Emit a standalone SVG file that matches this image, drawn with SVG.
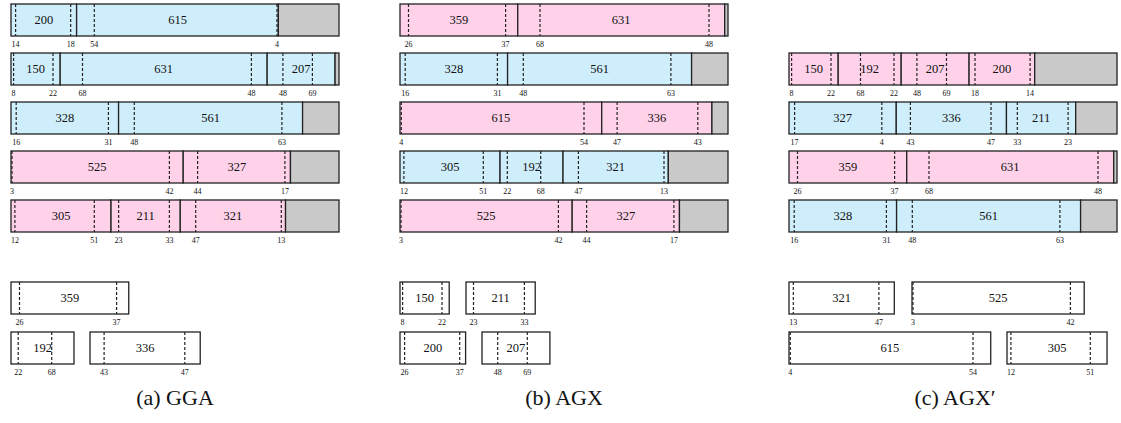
<svg xmlns="http://www.w3.org/2000/svg" width="1121" height="423" viewBox="0 0 1121 423">
<style>
rect{stroke:#222;stroke-width:1.3}
rect.bg{fill:#fff;stroke:none}
.b{fill:#cfeefc}
.p{fill:#ffd2ea}
.g{fill:#c9c9c9}
.w{fill:#fff}
.d{stroke:#222;stroke-width:1.2;stroke-dasharray:3 2}
text{font-family:"Liberation Serif","Times New Roman",serif;fill:#111;text-anchor:middle}
.n{font-size:12.5px}
.l{font-size:8px}
.c{font-size:22px}
</style>
<rect class="bg" width="1121" height="423"/>
<g id="connectors"/>

<!-- Panel a -->
<g id="a-bin1">
<rect class="b" x="11" y="4" width="65.6" height="32"/><rect class="b" x="76.6" y="4" width="201.72" height="32"/><rect class="g" x="278.32" y="4" width="60.68" height="32"/>
<line class="d" x1="15.6" y1="4" x2="15.6" y2="36"/><line class="d" x1="70.7" y1="4" x2="70.7" y2="36"/><line class="d" x1="94.3" y1="4" x2="94.3" y2="36"/><line class="d" x1="277" y1="4" x2="277" y2="36"/>
<text class="n" x="43.8" y="24">200</text><text class="n" x="177.5" y="24">615</text>
<text class="l" x="15.6" y="46.5">14</text><text class="l" x="70.7" y="46.5">18</text><text class="l" x="94.3" y="46.5">54</text><text class="l" x="277" y="46.5">4</text>
</g>
<g id="a-bin2">
<rect class="b" x="11" y="53" width="49.2" height="32"/><rect class="b" x="60.2" y="53" width="206.97" height="32"/><rect class="b" x="267.17" y="53" width="67.9" height="32"/><rect class="g" x="335.07" y="53" width="3.93" height="32"/>
<line class="d" x1="13.6" y1="53" x2="13.6" y2="85"/><line class="d" x1="53" y1="53" x2="53" y2="85"/><line class="d" x1="82.5" y1="53" x2="82.5" y2="85"/><line class="d" x1="251.4" y1="53" x2="251.4" y2="85"/><line class="d" x1="282.9" y1="53" x2="282.9" y2="85"/><line class="d" x1="312.4" y1="53" x2="312.4" y2="85"/>
<text class="n" x="35.6" y="73">150</text><text class="n" x="163.7" y="73">631</text><text class="n" x="301.1" y="73">207</text>
<text class="l" x="13.6" y="95.5">8</text><text class="l" x="53" y="95.5">22</text><text class="l" x="82.5" y="95.5">68</text><text class="l" x="251.4" y="95.5">48</text><text class="l" x="282.9" y="95.5">48</text><text class="l" x="312.4" y="95.5">69</text>
</g>
<g id="a-bin3">
<rect class="b" x="11" y="102" width="107.58" height="32"/><rect class="b" x="118.58" y="102" width="184.01" height="32"/><rect class="g" x="302.59" y="102" width="36.41" height="32"/>
<line class="d" x1="16.2" y1="102" x2="16.2" y2="134"/><line class="d" x1="108.4" y1="102" x2="108.4" y2="134"/><line class="d" x1="134.3" y1="102" x2="134.3" y2="134"/><line class="d" x1="281.9" y1="102" x2="281.9" y2="134"/>
<text class="n" x="64.8" y="122">328</text><text class="n" x="210.6" y="122">561</text>
<text class="l" x="16.2" y="144.5">16</text><text class="l" x="108.4" y="144.5">31</text><text class="l" x="134.3" y="144.5">48</text><text class="l" x="281.9" y="144.5">63</text>
</g>
<g id="a-bin4">
<rect class="p" x="11" y="151" width="172.2" height="32"/><rect class="p" x="183.2" y="151" width="107.26" height="32"/><rect class="g" x="290.46" y="151" width="48.54" height="32"/>
<line class="d" x1="12" y1="151" x2="12" y2="183"/><line class="d" x1="169.4" y1="151" x2="169.4" y2="183"/><line class="d" x1="197.6" y1="151" x2="197.6" y2="183"/><line class="d" x1="284.9" y1="151" x2="284.9" y2="183"/>
<text class="n" x="97.1" y="171">525</text><text class="n" x="236.8" y="171">327</text>
<text class="l" x="12" y="193.5">3</text><text class="l" x="169.4" y="193.5">42</text><text class="l" x="197.6" y="193.5">44</text><text class="l" x="284.9" y="193.5">17</text>
</g>
<g id="a-bin5">
<rect class="p" x="11" y="200" width="100.04" height="32"/><rect class="p" x="111.04" y="200" width="69.21" height="32"/><rect class="p" x="180.25" y="200" width="105.29" height="32"/><rect class="g" x="285.54" y="200" width="53.46" height="32"/>
<line class="d" x1="14.9" y1="200" x2="14.9" y2="232"/><line class="d" x1="94.3" y1="200" x2="94.3" y2="232"/><line class="d" x1="118.6" y1="200" x2="118.6" y2="232"/><line class="d" x1="169.4" y1="200" x2="169.4" y2="232"/><line class="d" x1="195.7" y1="200" x2="195.7" y2="232"/><line class="d" x1="281.3" y1="200" x2="281.3" y2="232"/>
<text class="n" x="61" y="220">305</text><text class="n" x="145.6" y="220">211</text><text class="n" x="232.9" y="220">321</text>
<text class="l" x="14.9" y="242.5">12</text><text class="l" x="94.3" y="242.5">51</text><text class="l" x="118.6" y="242.5">23</text><text class="l" x="169.4" y="242.5">33</text><text class="l" x="195.7" y="242.5">47</text><text class="l" x="281.3" y="242.5">13</text>
</g>
<g id="a-item359">
<rect class="w" x="11" y="282" width="117.75" height="32"/>
<line class="d" x1="19.5" y1="282" x2="19.5" y2="314"/><line class="d" x1="116.6" y1="282" x2="116.6" y2="314"/>
<text class="n" x="69.9" y="302">359</text><text class="l" x="19.5" y="324.5">26</text><text class="l" x="116.6" y="324.5">37</text>
</g>
<g id="a-item192">
<rect class="w" x="11" y="332" width="62.98" height="32"/>
<line class="d" x1="18.2" y1="332" x2="18.2" y2="364"/><line class="d" x1="51.7" y1="332" x2="51.7" y2="364"/>
<text class="n" x="42.5" y="352">192</text><text class="l" x="18.2" y="374.5">22</text><text class="l" x="51.7" y="374.5">68</text>
</g>
<g id="a-item336">
<rect class="w" x="90" y="332" width="110.21" height="32"/>
<line class="d" x1="104.1" y1="332" x2="104.1" y2="364"/><line class="d" x1="184.8" y1="332" x2="184.8" y2="364"/>
<text class="n" x="145.1" y="352">336</text><text class="l" x="104.1" y="374.5">43</text><text class="l" x="184.8" y="374.5">47</text>
</g>
<text id="cap-a" class="c" x="175" y="405">(a) GGA</text>

<!-- Panel b -->
<g id="b-bin1">
<rect class="p" x="400" y="4" width="117.75" height="32"/><rect class="p" x="517.75" y="4" width="206.97" height="32"/><rect class="g" x="724.72" y="4" width="3.28" height="32"/>
<line class="d" x1="408.5" y1="4" x2="408.5" y2="36"/><line class="d" x1="505.6" y1="4" x2="505.6" y2="36"/><line class="d" x1="540" y1="4" x2="540" y2="36"/><line class="d" x1="709" y1="4" x2="709" y2="36"/>
<text class="n" x="458.9" y="24">359</text><text class="n" x="621.2" y="24">631</text>
<text class="l" x="408.5" y="46.5">26</text><text class="l" x="505.6" y="46.5">37</text><text class="l" x="540" y="46.5">68</text><text class="l" x="709" y="46.5">48</text>
</g>
<g id="b-bin2">
<rect class="b" x="400" y="53" width="107.58" height="32"/><rect class="b" x="507.58" y="53" width="184.01" height="32"/><rect class="g" x="691.59" y="53" width="36.41" height="32"/>
<line class="d" x1="405.2" y1="53" x2="405.2" y2="85"/><line class="d" x1="497.4" y1="53" x2="497.4" y2="85"/><line class="d" x1="523.3" y1="53" x2="523.3" y2="85"/><line class="d" x1="670.9" y1="53" x2="670.9" y2="85"/>
<text class="n" x="453.8" y="73">328</text><text class="n" x="599.6" y="73">561</text>
<text class="l" x="405.2" y="95.5">16</text><text class="l" x="497.4" y="95.5">31</text><text class="l" x="523.3" y="95.5">48</text><text class="l" x="670.9" y="95.5">63</text>
</g>
<g id="b-bin3">
<rect class="p" x="400" y="102" width="201.72" height="32"/><rect class="p" x="601.72" y="102" width="110.21" height="32"/><rect class="g" x="711.93" y="102" width="16.07" height="32"/>
<line class="d" x1="401.3" y1="102" x2="401.3" y2="134"/><line class="d" x1="584" y1="102" x2="584" y2="134"/><line class="d" x1="617.1" y1="102" x2="617.1" y2="134"/><line class="d" x1="697.8" y1="102" x2="697.8" y2="134"/>
<text class="n" x="500.9" y="122">615</text><text class="n" x="656.8" y="122">336</text>
<text class="l" x="401.3" y="144.5">4</text><text class="l" x="584" y="144.5">54</text><text class="l" x="617.1" y="144.5">47</text><text class="l" x="697.8" y="144.5">43</text>
</g>
<g id="b-bin4">
<rect class="b" x="400" y="151" width="100.04" height="32"/><rect class="b" x="500.04" y="151" width="62.98" height="32"/><rect class="b" x="563.02" y="151" width="105.29" height="32"/><rect class="g" x="668.31" y="151" width="59.69" height="32"/>
<line class="d" x1="403.9" y1="151" x2="403.9" y2="183"/><line class="d" x1="483.3" y1="151" x2="483.3" y2="183"/><line class="d" x1="507.3" y1="151" x2="507.3" y2="183"/><line class="d" x1="540.7" y1="151" x2="540.7" y2="183"/><line class="d" x1="578.4" y1="151" x2="578.4" y2="183"/><line class="d" x1="664" y1="151" x2="664" y2="183"/>
<text class="n" x="450" y="171">305</text><text class="n" x="531.5" y="171">192</text><text class="n" x="615.7" y="171">321</text>
<text class="l" x="403.9" y="193.5">12</text><text class="l" x="483.3" y="193.5">51</text><text class="l" x="507.3" y="193.5">22</text><text class="l" x="540.7" y="193.5">68</text><text class="l" x="578.4" y="193.5">47</text><text class="l" x="664" y="193.5">13</text>
</g>
<g id="b-bin5">
<rect class="p" x="400" y="200" width="172.2" height="32"/><rect class="p" x="572.2" y="200" width="107.26" height="32"/><rect class="g" x="679.46" y="200" width="48.54" height="32"/>
<line class="d" x1="401" y1="200" x2="401" y2="232"/><line class="d" x1="558.4" y1="200" x2="558.4" y2="232"/><line class="d" x1="586.6" y1="200" x2="586.6" y2="232"/><line class="d" x1="673.9" y1="200" x2="673.9" y2="232"/>
<text class="n" x="486.1" y="220">525</text><text class="n" x="625.8" y="220">327</text>
<text class="l" x="401" y="242.5">3</text><text class="l" x="558.4" y="242.5">42</text><text class="l" x="586.6" y="242.5">44</text><text class="l" x="673.9" y="242.5">17</text>
</g>
<g id="b-item150">
<rect class="w" x="400" y="282" width="49.2" height="32"/>
<line class="d" x1="402.6" y1="282" x2="402.6" y2="314"/><line class="d" x1="442" y1="282" x2="442" y2="314"/>
<text class="n" x="424.6" y="302">150</text><text class="l" x="402.6" y="324.5">8</text><text class="l" x="442" y="324.5">22</text>
</g>
<g id="b-item211">
<rect class="w" x="466" y="282" width="69.21" height="32"/>
<line class="d" x1="473.5" y1="282" x2="473.5" y2="314"/><line class="d" x1="524.4" y1="282" x2="524.4" y2="314"/>
<text class="n" x="500.6" y="302">211</text><text class="l" x="473.5" y="324.5">23</text><text class="l" x="524.4" y="324.5">33</text>
</g>
<g id="b-item200">
<rect class="w" x="400" y="332" width="65.6" height="32"/>
<line class="d" x1="404.6" y1="332" x2="404.6" y2="364"/><line class="d" x1="459.7" y1="332" x2="459.7" y2="364"/>
<text class="n" x="432.8" y="352">200</text><text class="l" x="404.6" y="374.5">26</text><text class="l" x="459.7" y="374.5">37</text>
</g>
<g id="b-item207">
<rect class="w" x="482" y="332" width="67.9" height="32"/>
<line class="d" x1="497.7" y1="332" x2="497.7" y2="364"/><line class="d" x1="527.3" y1="332" x2="527.3" y2="364"/>
<text class="n" x="515.9" y="352">207</text><text class="l" x="497.7" y="374.5">48</text><text class="l" x="527.3" y="374.5">69</text>
</g>
<text id="cap-b" class="c" x="564" y="405">(b) AGX</text>

<!-- Panel c -->
<g id="c-bin1">
<rect class="p" x="789" y="53" width="49.2" height="32"/><rect class="p" x="838.2" y="53" width="62.98" height="32"/><rect class="p" x="901.18" y="53" width="67.9" height="32"/><rect class="p" x="969.08" y="53" width="65.6" height="32"/><rect class="g" x="1034.68" y="53" width="82.32" height="32"/>
<line class="d" x1="791.6" y1="53" x2="791.6" y2="85"/><line class="d" x1="831" y1="53" x2="831" y2="85"/><line class="d" x1="860.5" y1="53" x2="860.5" y2="85"/><line class="d" x1="894" y1="53" x2="894" y2="85"/><line class="d" x1="916.9" y1="53" x2="916.9" y2="85"/><line class="d" x1="946.5" y1="53" x2="946.5" y2="85"/><line class="d" x1="975" y1="53" x2="975" y2="85"/><line class="d" x1="1030.1" y1="53" x2="1030.1" y2="85"/>
<text class="n" x="813.6" y="73">150</text><text class="n" x="869.7" y="73">192</text><text class="n" x="935.1" y="73">207</text><text class="n" x="1001.9" y="73">200</text>
<text class="l" x="791.6" y="95.5">8</text><text class="l" x="831" y="95.5">22</text><text class="l" x="860.5" y="95.5">68</text><text class="l" x="894" y="95.5">22</text><text class="l" x="916.9" y="95.5">48</text><text class="l" x="946.5" y="95.5">69</text><text class="l" x="975" y="95.5">18</text><text class="l" x="1030.1" y="95.5">14</text>
</g>
<g id="c-bin2">
<rect class="b" x="789" y="102" width="107.26" height="32"/><rect class="b" x="896.26" y="102" width="110.21" height="32"/><rect class="b" x="1006.47" y="102" width="69.21" height="32"/><rect class="g" x="1075.68" y="102" width="41.32" height="32"/>
<line class="d" x1="794.6" y1="102" x2="794.6" y2="134"/><line class="d" x1="881.8" y1="102" x2="881.8" y2="134"/><line class="d" x1="910.4" y1="102" x2="910.4" y2="134"/><line class="d" x1="991" y1="102" x2="991" y2="134"/><line class="d" x1="1017.3" y1="102" x2="1017.3" y2="134"/><line class="d" x1="1068.1" y1="102" x2="1068.1" y2="134"/>
<text class="n" x="842.6" y="122">327</text><text class="n" x="951.4" y="122">336</text><text class="n" x="1041.1" y="122">211</text>
<text class="l" x="794.6" y="144.5">17</text><text class="l" x="881.8" y="144.5">4</text><text class="l" x="910.4" y="144.5">43</text><text class="l" x="991" y="144.5">47</text><text class="l" x="1017.3" y="144.5">33</text><text class="l" x="1068.1" y="144.5">23</text>
</g>
<g id="c-bin3">
<rect class="p" x="789" y="151" width="117.75" height="32"/><rect class="p" x="906.75" y="151" width="206.97" height="32"/><rect class="g" x="1113.72" y="151" width="3.28" height="32"/>
<line class="d" x1="797.5" y1="151" x2="797.5" y2="183"/><line class="d" x1="894.6" y1="151" x2="894.6" y2="183"/><line class="d" x1="929" y1="151" x2="929" y2="183"/><line class="d" x1="1098" y1="151" x2="1098" y2="183"/>
<text class="n" x="847.9" y="171">359</text><text class="n" x="1010.2" y="171">631</text>
<text class="l" x="797.5" y="193.5">26</text><text class="l" x="894.6" y="193.5">37</text><text class="l" x="929" y="193.5">68</text><text class="l" x="1098" y="193.5">48</text>
</g>
<g id="c-bin4">
<rect class="b" x="789" y="200" width="107.58" height="32"/><rect class="b" x="896.58" y="200" width="184.01" height="32"/><rect class="g" x="1080.59" y="200" width="36.41" height="32"/>
<line class="d" x1="794.2" y1="200" x2="794.2" y2="232"/><line class="d" x1="886.4" y1="200" x2="886.4" y2="232"/><line class="d" x1="912.3" y1="200" x2="912.3" y2="232"/><line class="d" x1="1059.9" y1="200" x2="1059.9" y2="232"/>
<text class="n" x="842.8" y="220">328</text><text class="n" x="988.6" y="220">561</text>
<text class="l" x="794.2" y="242.5">16</text><text class="l" x="886.4" y="242.5">31</text><text class="l" x="912.3" y="242.5">48</text><text class="l" x="1059.9" y="242.5">63</text>
</g>
<g id="c-item321">
<rect class="w" x="789" y="282" width="105.29" height="32"/>
<line class="d" x1="793.3" y1="282" x2="793.3" y2="314"/><line class="d" x1="878.9" y1="282" x2="878.9" y2="314"/>
<text class="n" x="841.6" y="302">321</text><text class="l" x="793.3" y="324.5">13</text><text class="l" x="878.9" y="324.5">47</text>
</g>
<g id="c-item525">
<rect class="w" x="912" y="282" width="172.2" height="32"/>
<line class="d" x1="913" y1="282" x2="913" y2="314"/><line class="d" x1="1070.4" y1="282" x2="1070.4" y2="314"/>
<text class="n" x="998.1" y="302">525</text><text class="l" x="913" y="324.5">3</text><text class="l" x="1070.4" y="324.5">42</text>
</g>
<g id="c-item615">
<rect class="w" x="789" y="332" width="201.72" height="32"/>
<line class="d" x1="790.3" y1="332" x2="790.3" y2="364"/><line class="d" x1="973" y1="332" x2="973" y2="364"/>
<text class="n" x="889.9" y="352">615</text><text class="l" x="790.3" y="374.5">4</text><text class="l" x="973" y="374.5">54</text>
</g>
<g id="c-item305">
<rect class="w" x="1007" y="332" width="100.04" height="32"/>
<line class="d" x1="1010.9" y1="332" x2="1010.9" y2="364"/><line class="d" x1="1090.3" y1="332" x2="1090.3" y2="364"/>
<text class="n" x="1057" y="352">305</text><text class="l" x="1010.9" y="374.5">12</text><text class="l" x="1090.3" y="374.5">51</text>
</g>
<text id="cap-c" class="c" x="955" y="405">(c) AGX′</text>
</svg>
